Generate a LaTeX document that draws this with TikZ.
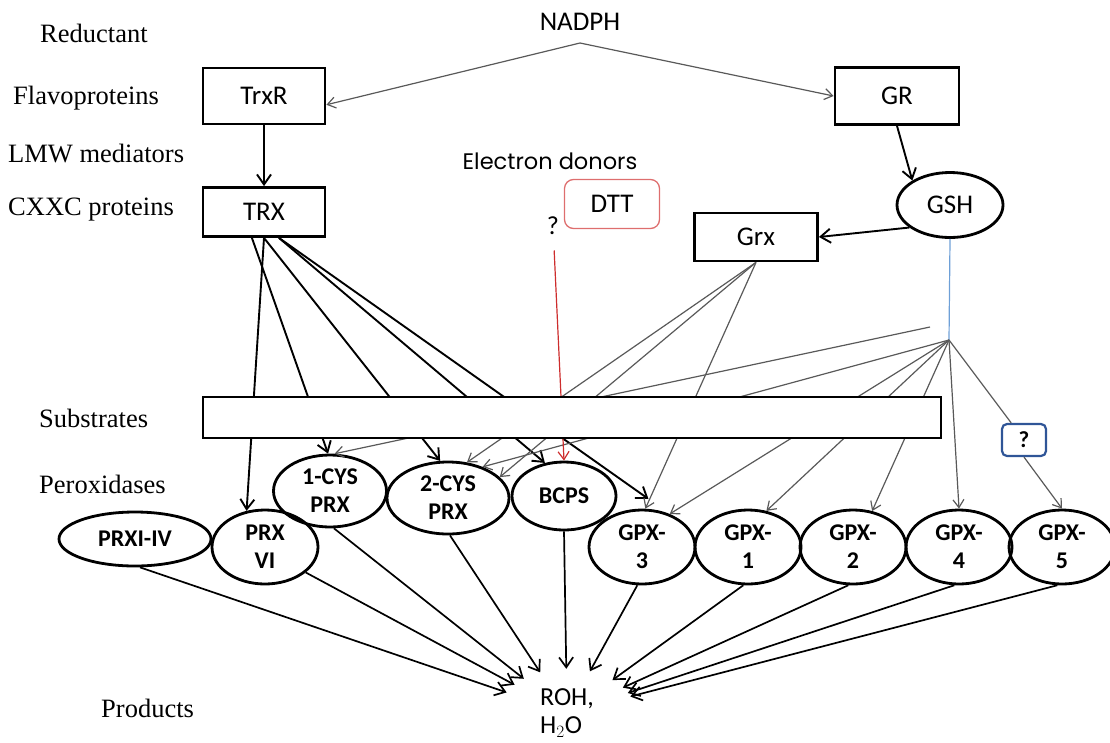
\documentclass[tikz,border=0pt]{standalone}
\usepackage{fontspec}
\setmainfont{Liberation Serif}
\newfontfamily\calfont{Carlito}
\newfontfamily\gothfont{Poppins}
\usetikzlibrary{shapes.geometric,arrows.meta}

\definecolor{dttred}{RGB}{222,110,110}
\definecolor{redline}{RGB}{205,45,45}
\definecolor{qblue}{RGB}{47,85,151}
\definecolor{gshblue}{RGB}{110,160,215}

\begin{document}
\begin{tikzpicture}[x=1pt,y=-1pt]
  % Define box, ellipse and arrow styles
  \tikzstyle{sidelabel} = [anchor=west, inner sep=0pt, font=\fontsize{26.5}{28}\selectfont]
  \tikzstyle{enzbox} = [draw, line width=2.8pt, rectangle, inner sep=0pt,
  font=\calfont\fontsize{27}{30}\selectfont]
  \tikzstyle{perox} = [draw, ellipse, line width=2.8pt, inner sep=0pt, align=center,
  font=\calfont\bfseries\fontsize{24}{28}\selectfont]
  \tikzstyle{thickarrow} = [line width=1.9pt, -{Straight Barb[length=10pt,width=14pt]}]
  \tikzstyle{thinarrow} = [black!65, line width=1.2pt, -{Straight Barb[length=8pt,width=11pt]}]
  \tikzstyle{outarrow} = [line width=1.7pt, -{Straight Barb[length=10pt,width=14pt]}]

  \useasboundingbox (0,0) rectangle (1110,742);

  % side labels
  \node[sidelabel] (lblred) at (40,33) {Reductant};
  \node[sidelabel] (lblflavo) at (13,98) {Flavoproteins};
  \node[sidelabel] (lbllmw) at (8,154) {LMW mediators};
  \node[sidelabel] (lblcxxc) at (8,210) {CXXC proteins};
  \node[sidelabel] (lblsub) at (39,418) {Substrates};
  \node[sidelabel] (lblperox) at (39,484) {Peroxidases};
  \node[sidelabel] (lblprod) at (101,708) {Products};

  % reductant and flavoproteins
  \node[font=\calfont\fontsize{27}{30}\selectfont] (nadph) at (580,22) {NADPH};
  \coordinate (apex) at (580,43);
  \node[enzbox, minimum width=122pt, minimum height=56pt] (trxr) at (264,96) {TrxR};
  \node[enzbox, minimum width=124pt, minimum height=57pt] (gr) at (897,96) {GR};
  \node[enzbox, minimum width=122pt, minimum height=49pt] (trx) at (264,212) {TRX};
  \node[draw, ellipse, line width=2.8pt, minimum width=106pt, minimum height=65pt,
  inner sep=0pt, font=\calfont\fontsize{27}{30}\selectfont] (gsh) at (950,205) {GSH};
  \node[enzbox, minimum width=123pt, minimum height=48pt] (grx) at (756,237) {Grx};

  % electron donors
  \node[font=\gothfont\fontsize{22.5}{25}\selectfont] (edonors) at (550,161) {Electron donors};
  \node[draw=dttred, line width=1.3pt, rounded corners=9pt, minimum width=95pt,
  minimum height=49pt, font=\calfont\fontsize{27}{30}\selectfont] (dtt) at (612,204) {DTT};
  \node[font=\calfont\fontsize{26}{30}\selectfont] (qmark) at (553,226) {?};
  \coordinate (fan) at (949,340);
  \coordinate (fanb) at (930,327);

  % peroxidases
  \node[perox, minimum width=152pt, minimum height=54pt] (prxiv) at (135,539) {PRXI-IV};
  \node[perox, minimum width=106pt, minimum height=74pt] (prxvi) at (265,547) {PRX\\VI};
  \node[perox, minimum width=113pt, minimum height=72pt] (cysa) at (330,491) {1-CYS\\PRX};
  \node[perox, minimum width=122pt, minimum height=72pt] (cysb) at (448,498) {2-CYS\\PRX};
  \node[perox, minimum width=104pt, minimum height=68pt] (bcps) at (564,496) {BCPS};
  \node[perox, minimum width=106pt, minimum height=74pt] (gpxiii) at (642,547) {GPX-\\3};
  \node[perox, minimum width=106pt, minimum height=74pt] (gpxi) at (748,547) {GPX-\\1};
  \node[perox, minimum width=106pt, minimum height=74pt] (gpxii) at (853,547) {GPX-\\2};
  \node[perox, minimum width=106pt, minimum height=74pt] (gpxiv) at (959,547) {GPX-\\4};
  \node[perox, minimum width=106pt, minimum height=74pt] (gpxv) at (1062,547) {GPX-\\5};
  \node[draw=qblue, line width=2.2pt, rounded corners=5pt, minimum width=44pt,
  minimum height=32pt, inner sep=0pt, font=\calfont\bfseries\fontsize{23}{26}\selectfont] (qbox) at (1024,440) {?};

  % products
  \node[ellipse, minimum width=136pt, minimum height=88pt, inner sep=0pt, align=left,
  font=\calfont\fontsize{26}{28}\selectfont] (roh) at (567,713) {ROH,\\H$_2$O};

  % NADPH to the reductases
  \draw[thinarrow] (apex) -- (trxr.-8);
  \draw[thinarrow] (apex) -- (gr.west);
  \draw[thickarrow] (trxr) -- (trx);
  \draw[thickarrow] (gr.south) -- (gsh.147);
  \draw[thickarrow] (gsh.209) -- (grx.east);
  \draw[gshblue, line width=1.2pt] (gsh.south) -- (fan);

  % thioredoxin branch
  \draw[thickarrow] (trx.-115) -- (cysa.93);
  \draw[thickarrow] (trx.south) -- (prxvi.117);
  \draw[thickarrow] (trx.south) -- (cysb.102);
  \draw[thickarrow] (trx.-60) -- (bcps.120);
  \draw[thickarrow, shorten >=26pt] (trx.-60) -- (gpxiii.50);

  % glutaredoxin and glutathione branch
  \draw[thinarrow] (grx.south) -- (cysb.62);
  \draw[thinarrow] (grx.south) -- (cysb.22);
  \draw[thinarrow] (grx.south) -- (gpxiii.85);
  \draw[thinarrow] (fanb) -- (cysa.83);
  \draw[thinarrow] (fan) -- (cysb.42);
  \foreach \tgt in {gpxiii.50, gpxi.63, gpxii.62, gpxiv.north}
    \draw[thinarrow] (fan) -- (\tgt);
  \draw[black!65, line width=1.2pt] (fan) -- (qbox);
  \draw[thinarrow] (qbox.south) -- (gpxv.north);

  % DTT
  \draw[redline, line width=1.2pt, shorten <=12pt, -{Straight Barb[length=8pt,width=11pt]}] (qmark) -- (bcps.north);

  % to the products
  \draw[outarrow] (prxiv.-80) -- (roh);
  \draw[outarrow] (prxvi.-32) -- (roh);
  \draw[outarrow] (cysa.-84) -- (roh);
  \draw[outarrow] (cysb.-87) -- (roh);
  \draw[outarrow] (bcps.south) -- (roh);
  \foreach \src in {gpxiii, gpxi, gpxii, gpxiv, gpxv}
    \draw[outarrow] (\src.-97) -- (roh);

  % substrates bar on top of the lines
  \node[draw, line width=2.8pt, fill=white, minimum width=738pt, minimum height=41pt,
  inner sep=0pt] (subbar) at (572,417.5) {};
\end{tikzpicture}
\end{document}
